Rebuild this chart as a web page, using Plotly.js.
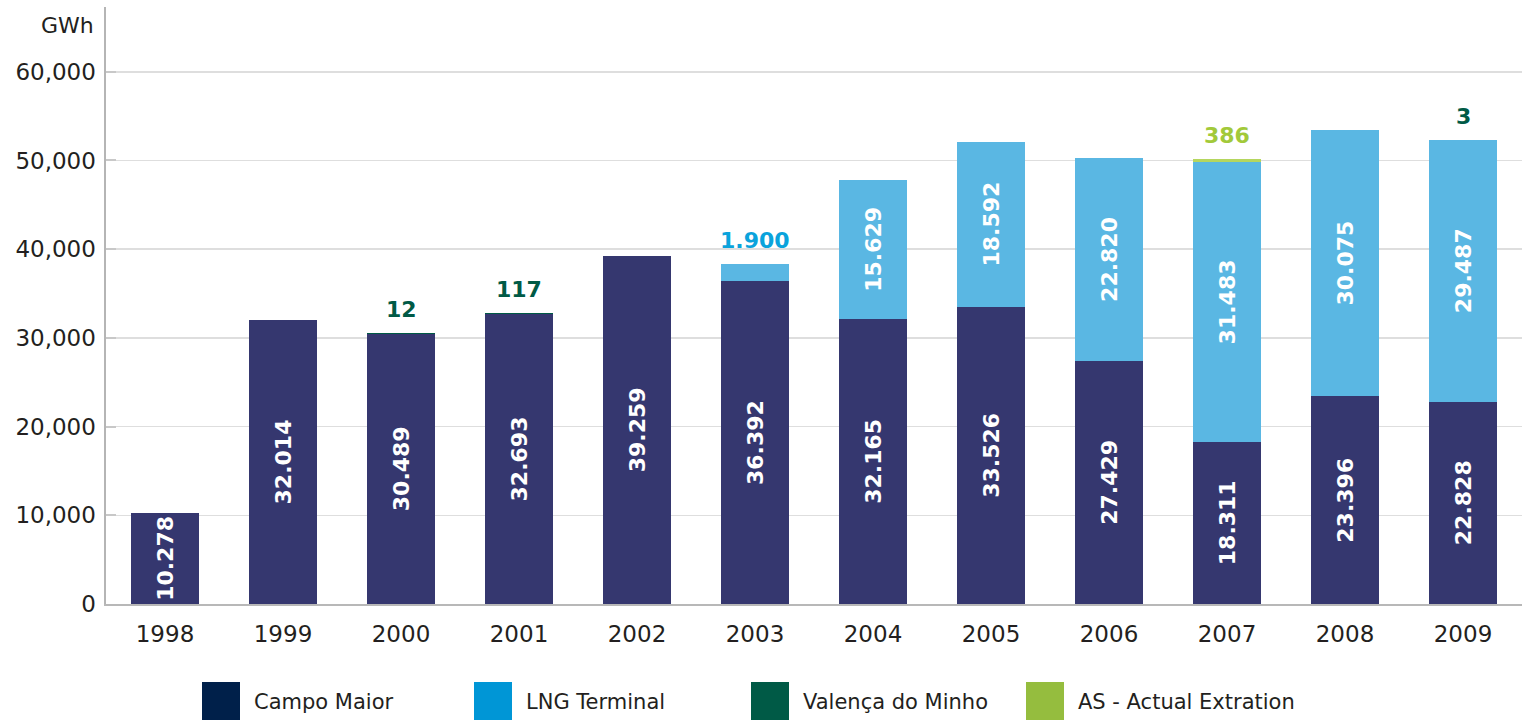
<!DOCTYPE html>
<html>
<head>
<meta charset="utf-8">
<script src="https://cdn.plot.ly/plotly-3.0.1.min.js"></script>
<style>html,body{margin:0;padding:0;background:#fff;}#chart{width:1529px;height:721px;}</style>
</head>
<body>
<div id="chart"></div>
<script>
// ---- data ----
const years = ['1998','1999','2000','2001','2002','2003','2004','2005','2006','2007','2008','2009'];
const campoMaior   = [10278, 32014, 30489, 32693, 39259, 36392, 32165, 33526, 27429, 18311, 23396, 22828];
const lngTerminal  = [0, 0, 0, 0, 0, 1900, 15629, 18592, 22820, 31483, 30075, 29487];
const valencaMinho = [0, 0, 12, 117, 0, 0, 0, 0, 0, 0, 0, 3];
const asExtraction = [0, 0, 0, 0, 0, 0, 0, 0, 0, 386, 0, 0];
const seriesNames  = ['Campo Maior', 'LNG Terminal', 'Valença do Minho', 'AS - Actual Extration'];
const yTicks = [0, 10000, 20000, 30000, 40000, 50000, 60000];

// ---- styles ----
const FONT = '"DejaVu Sans", sans-serif';
const barColors = ['#35376f', '#5ab7e3', '#005a46', '#b5d65e'];
const legendColors = ['#00204a', '#0096d6', '#005a46', '#95bd3e'];
const aboveColors = ['#35376f', '#0aa3dc', '#005a46', '#a2c93a'];
const INSIDE_MIN = 10000;

const series = [campoMaior, lngTerminal, valencaMinho, asExtraction];

function fmt(v){
  if (v >= 1000) return Math.floor(v/1000) + '.' + String(v % 1000).padStart(3, '0');
  return String(v);
}

const traces = series.map((vals, i) => ({
  type: 'bar',
  name: seriesNames[i],
  x: years,
  y: vals,
  marker: {color: barColors[i], line: {width: 0}},
  text: vals.map(v => v >= INSIDE_MIN ? fmt(v) : ''),
  textposition: 'inside',
  insidetextanchor: 'middle',
  textangle: -90,
  constraintext: 'none',
  textfont: {family: FONT, size: 22, color: '#ffffff', weight: 'bold'},
  hoverinfo: 'skip',
  showlegend: false
}));

// labels above bars for small segments (x given as category index)
const annotations = [];
years.forEach((yr, k) => {
  const total = series.reduce((s, arr) => s + arr[k], 0);
  series.forEach((arr, i) => {
    const v = arr[k];
    if (v > 0 && v < INSIDE_MIN) {
      annotations.push({
        x: k, y: total, xref: 'x', yref: 'y',
        text: fmt(v), showarrow: false,
        yanchor: 'bottom', yshift: 9,
        font: {family: FONT, size: 22, color: aboveColors[i], weight: 'bold'}
      });
    }
  });
});

// geometry helpers (layout only)
const W = 1529, H = 721, L = 106, R = 7, T = 7, B = 117;
const PW = W - L - R, PH = H - T - B;
const px2x = px => (px - L) / PW;
const py2y = py => (H - B - py) / PH;

annotations.push({
  xref: 'paper', yref: 'paper', x: px2x(96), y: py2y(25),
  xanchor: 'right', yanchor: 'middle', showarrow: false,
  text: 'GWh', font: {family: FONT, size: 22, color: '#231f20'}
});

// custom legend
const legendLeft = [202, 474, 751, 1026];
const shapes = [];
seriesNames.forEach((nm, i) => {
  shapes.push({
    type: 'rect', xref: 'paper', yref: 'paper',
    x0: px2x(legendLeft[i]), x1: px2x(legendLeft[i] + 38),
    y0: py2y(720), y1: py2y(682),
    fillcolor: legendColors[i], line: {width: 0}
  });
  annotations.push({
    xref: 'paper', yref: 'paper', x: px2x(legendLeft[i] + 50), y: py2y(702),
    xanchor: 'left', yanchor: 'middle', showarrow: false,
    text: nm, font: {family: FONT, size: 21, color: '#231f20'}
  });
});

const layout = {
  width: W, height: H,
  margin: {l: L, r: R, t: T, b: B, pad: 0},
  paper_bgcolor: '#ffffff', plot_bgcolor: '#ffffff',
  barmode: 'stack', bargap: 0.42,
  showlegend: false,
  font: {family: FONT, color: '#231f20'},
  xaxis: {
    type: 'category', range: [-0.5, 11.5],
    showline: true, linecolor: '#b8b8b8', linewidth: 2,
    ticks: '', showgrid: false, zeroline: false,
    tickfont: {family: FONT, size: 23, color: '#231f20'},
    ticklabelstandoff: 8
  },
  yaxis: {
    range: [0, 67300], tickvals: yTicks, tickformat: ',',
    showgrid: true, gridcolor: '#dedede', gridwidth: 1.5,
    showline: true, linecolor: '#b5b5b5', linewidth: 2.5,
    ticks: 'inside', ticklen: 10, tickwidth: 2, tickcolor: '#c8c8c8',
    zeroline: false,
    tickfont: {family: FONT, size: 23, color: '#231f20'},
    ticklabelstandoff: 3
  },
  annotations: annotations,
  shapes: shapes
};

Plotly.newPlot('chart', traces, layout, {displayModeBar: false, staticPlot: true});
</script>
</body>
</html>
